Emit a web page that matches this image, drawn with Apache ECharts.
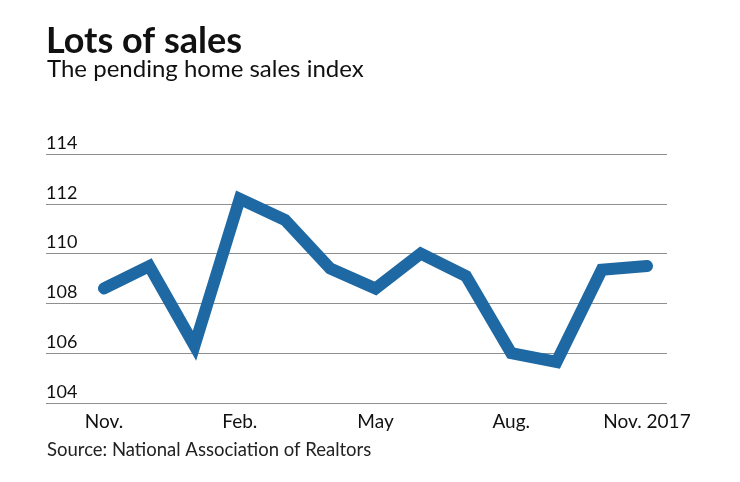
<!DOCTYPE html>
<html>
<head>
<meta charset="utf-8">
<script src="https://cdn.jsdelivr.net/npm/echarts@6/dist/echarts.min.js"></script>
<style>
html,body{margin:0;padding:0;background:#fff;}
#chart{width:740px;height:482px;}
</style>
</head>
<body>
<div id="chart"></div>
<script>
const months = ["Nov.","Dec.","Jan.","Feb.","Mar.","Apr.","May","Jun.","Jul.","Aug.","Sep.","Oct.","Nov. 2017"];
const indexValues = [108.6, 109.5, 106.3, 112.2, 111.35, 109.4, 108.6, 110.0, 109.1, 106.0, 105.65, 109.35, 109.5];
const yTicks = [104, 106, 108, 110, 112, 114];

const FONT = 'Lato, "Noto Sans", sans-serif';
const chart = echarts.init(document.getElementById('chart'), null, {renderer: 'canvas'});
const yMin = yTicks[0], yMax = yTicks[yTicks.length - 1];
const gridTop = 154, gridBottom = 482 - 403;

chart.setOption({
  backgroundColor: '#fff',
  animation: false,
  title: [
    {text: 'Lots of sales', left: 46, top: 23, padding: 0,
     textStyle: {fontFamily: FONT, fontSize: 36, fontWeight: 'bold', color: '#111'}},
    {text: 'The pending home sales index', left: 47, top: 57, padding: 0,
     textStyle: {fontFamily: FONT, fontSize: 24, fontWeight: 'normal', color: '#111'}},
    {text: 'Source: National Association of Realtors', left: 47, top: 441, padding: 0,
     textStyle: {fontFamily: FONT, fontSize: 18.5, fontWeight: 'normal', color: '#222'}}
  ],
  grid: [
    {left: 46, right: 73, top: gridTop, bottom: gridBottom},
    {left: 104, right: 93, top: gridTop, bottom: gridBottom}
  ],
  xAxis: [
    {gridIndex: 0, type: 'category', data: months, show: false},
    {gridIndex: 1, type: 'category', data: months, boundaryGap: false,
     axisLine: {show: false}, axisTick: {show: false}, splitLine: {show: false},
     axisLabel: {interval: 2, margin: 9, fontFamily: FONT, fontSize: 19, color: '#111'}}
  ],
  yAxis: [
    {gridIndex: 0, type: 'value', min: yMin, max: yMax, interval: 2,
     axisLine: {show: false}, axisTick: {show: false},
     splitLine: {show: true, lineStyle: {color: '#8f8f8f', width: 1.2}},
     axisLabel: {inside: true, margin: 0, verticalAlign: 'bottom', align: 'left',
       padding: [0, 0, 2, 0], fontFamily: FONT, fontSize: 18, color: '#111'}},
    {gridIndex: 1, type: 'value', min: yMin, max: yMax, interval: 2, show: false}
  ],
  series: [{
    type: 'line', xAxisIndex: 1, yAxisIndex: 1, data: indexValues,
    symbol: 'none', smooth: false,
    lineStyle: {color: '#1e69a3', width: 12, join: 'miter', cap: 'round'}
  }]
});
</script>
</body>
</html>
